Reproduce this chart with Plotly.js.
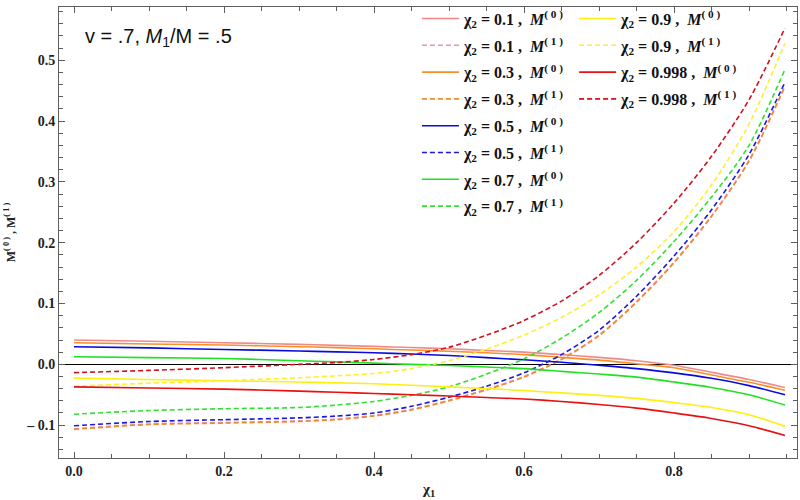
<!DOCTYPE html>
<html>
<head>
<meta charset="utf-8">
<script src="https://cdn.plot.ly/plotly-3.0.1.min.js"></script>
<style>
  html, body { margin: 0; padding: 0; background: #fff; }
  #chart { width: 800px; height: 500px; }
</style>
</head>
<body>
<div id="chart"></div>
<script>
// chi_1 sample points
var chi1 = [0, 0.1, 0.2, 0.3, 0.35, 0.4, 0.45, 0.5, 0.55, 0.6, 0.65, 0.7, 0.75, 0.8, 0.85, 0.9, 0.948];

// M^(0) curves, one per chi_2
var m0_01  = [0.040, 0.038, 0.0356, 0.0328, 0.0312, 0.0295, 0.0276, 0.0255, 0.0228, 0.020, 0.016, 0.0115, 0.006, -0.0015, -0.013, -0.025, -0.038];
var m0_03  = [0.0355, 0.0335, 0.0317, 0.029, 0.0275, 0.0255, 0.0235, 0.0215, 0.019, 0.016, 0.0115, 0.007, 0.001, -0.0055, -0.0175, -0.0295, -0.0425];
var m0_05  = [0.029, 0.027, 0.0244, 0.022, 0.0205, 0.019, 0.017, 0.0145, 0.011, 0.0075, 0.0035, -0.0015, -0.007, -0.014, -0.023, -0.035, -0.050];
var m0_07  = [0.0125, 0.011, 0.0095, 0.006, 0.004, 0.002, 0.0, -0.002, -0.0045, -0.007, -0.0115, -0.016, -0.021, -0.029, -0.038, -0.050, -0.067];
var m0_09  = [-0.0227, -0.025, -0.027, -0.029, -0.0305, -0.032, -0.0345, -0.037, -0.040, -0.043, -0.047, -0.051, -0.056, -0.063, -0.071, -0.083, -0.102];
var m0_998 = [-0.037, -0.0388, -0.0407, -0.044, -0.046, -0.048, -0.050, -0.052, -0.0545, -0.057, -0.061, -0.066, -0.072, -0.080, -0.089, -0.101, -0.117];

// M^(1) curves
var m1_01  = [-0.106, -0.098, -0.0956, -0.093, -0.090, -0.084, -0.074, -0.059, -0.041, -0.020, 0.009, 0.048, 0.103, 0.168, 0.244, 0.335, 0.458];
var m1_03  = [-0.107, -0.099, -0.0966, -0.094, -0.091, -0.085, -0.075, -0.060, -0.042, -0.021, 0.008, 0.047, 0.102, 0.167, 0.243, 0.334, 0.457];
var m1_05  = [-0.101, -0.094, -0.091, -0.088, -0.085, -0.080, -0.069, -0.054, -0.036, -0.014, 0.016, 0.056, 0.112, 0.178, 0.254, 0.345, 0.464];
var m1_07  = [-0.082, -0.076, -0.073, -0.071, -0.067, -0.061, -0.051, -0.037, -0.016, 0.009, 0.043, 0.085, 0.138, 0.202, 0.275, 0.360, 0.485];
var m1_09  = [-0.036, -0.031, -0.027, -0.022, -0.019, -0.015, -0.007, 0.006, 0.025, 0.048, 0.077, 0.114, 0.160, 0.218, 0.295, 0.395, 0.528];
var m1_998 = [-0.0136, -0.010, -0.0055, 0.0, 0.003, 0.008, 0.016, 0.028, 0.048, 0.072, 0.104, 0.146, 0.200, 0.265, 0.342, 0.435, 0.553];

var chi2Labels = ['0.1', '0.3', '0.5', '0.7', '0.9', '0.998'];
var yTickVals = [-0.1, 0, 0.1, 0.2, 0.3, 0.4, 0.5];
var yTickText = ['\u2013 0.1', '0.0', '0.1', '0.2', '0.3', '0.4', '0.5'];
var xTickVals = [0, 0.2, 0.4, 0.6, 0.8];
var xTickText = ['0.0', '0.2', '0.4', '0.6', '0.8'];

var solidColors = ['#f08a8a', '#f7902a', '#0a0ae0', '#22e022', '#ffee10', '#e81010'];
var dashColors  = ['#ee90ae', '#f08a30', '#1a1ad8', '#30e030', '#ffee30', '#d0101e'];

var m0 = [m0_01, m0_03, m0_05, m0_07, m0_09, m0_998];
var m1 = [m1_01, m1_03, m1_05, m1_07, m1_09, m1_998];

function label(i, k) {
  return '<b>\u03c7<sub>2</sub> = ' + chi2Labels[i] + ' ,  <i>M</i><sup>( ' + k + ' )</sup></b>';
}

var data = [];
for (var i = 0; i < chi2Labels.length; i++) {
  var lg = i < 4 ? 'legend' : 'legend2';
  data.push({
    x: chi1, y: m0[i], type: 'scatter', mode: 'lines',
    name: label(i, 0), legend: lg, legendgroup: 'g' + i + 'a',
    line: { color: solidColors[i], width: 1.6, shape: 'spline', smoothing: 0.8 }
  });
  data.push({
    x: chi1, y: m1[i], type: 'scatter', mode: 'lines',
    name: label(i, 1), legend: lg, legendgroup: 'g' + i + 'b',
    line: { color: dashColors[i], width: 1.6, dash: '5px,3px', shape: 'spline', smoothing: 0.8 }
  });
}

var frame = 'rgb(95,95,95)';
var tickFont = { family: 'Liberation Serif, serif', size: 14, color: '#222', weight: 'bold' };
var legendFont = { family: 'Liberation Serif, serif', size: 16, color: '#111' };

var layout = {
  width: 800, height: 500,
  margin: { l: 59, r: 3, t: 2, b: 42 },
  paper_bgcolor: '#fff', plot_bgcolor: '#fff',
  showlegend: true,
  legend: {
    x: 0.485, y: 1.012, xanchor: 'left', yanchor: 'top',
    bgcolor: 'rgba(0,0,0,0)', font: legendFont,
    itemwidth: 37, tracegroupgap: 3
  },
  legend2: {
    x: 0.698, y: 1.012, xanchor: 'left', yanchor: 'top',
    bgcolor: 'rgba(0,0,0,0)', font: legendFont,
    itemwidth: 37, tracegroupgap: 3
  },
  xaxis: {
    range: [-0.02, 0.964],
    tickmode: 'array', tickvals: xTickVals, ticktext: xTickText,
    ticks: 'inside', ticklen: 6, tickcolor: frame,
    minor: { tickmode: 'linear', tick0: 0, dtick: 0.05, ticks: 'inside', ticklen: 4, tickcolor: frame },
    showline: true, linecolor: frame, linewidth: 1, mirror: 'allticks',
    showgrid: false, zeroline: false,
    tickfont: tickFont
  },
  yaxis: {
    range: [-0.154, 0.5875],
    tickmode: 'array', tickvals: yTickVals, ticktext: yTickText,
    ticks: 'inside', ticklen: 6, tickcolor: frame,
    minor: { tickmode: 'linear', tick0: 0, dtick: 0.02, ticks: 'inside', ticklen: 4, tickcolor: frame },
    showline: true, linecolor: frame, linewidth: 1, mirror: 'allticks',
    showgrid: false, zeroline: true, zerolinecolor: '#000', zerolinewidth: 1,
    tickfont: tickFont,
    title: { text: '<b>M<sup>( 0 )</sup> , M<sup>( 1 )</sup></b>', font: { family: 'Liberation Serif, serif', size: 12, color: '#222' }, standoff: 8 }
  },
  annotations: [{
    xref: 'paper', yref: 'paper', x: 0.033, y: 0.932, xanchor: 'left', yanchor: 'middle',
    showarrow: false,
    text: 'v = .7, <i>M</i><sub>1</sub>/M = .5',
    font: { family: 'Liberation Sans, Arial, sans-serif', size: 20, color: '#111' }
  }, {
    xref: 'paper', yref: 'paper', x: 0.5, y: -0.07, xanchor: 'center', yanchor: 'middle',
    showarrow: false,
    text: '<b>\u03c7<sub>1</sub></b>',
    font: { family: 'Liberation Serif, serif', size: 15, color: '#222' }
  }]
};

Plotly.newPlot('chart', data, layout, { displayModeBar: false, staticPlot: true });
</script>
</body>
</html>
